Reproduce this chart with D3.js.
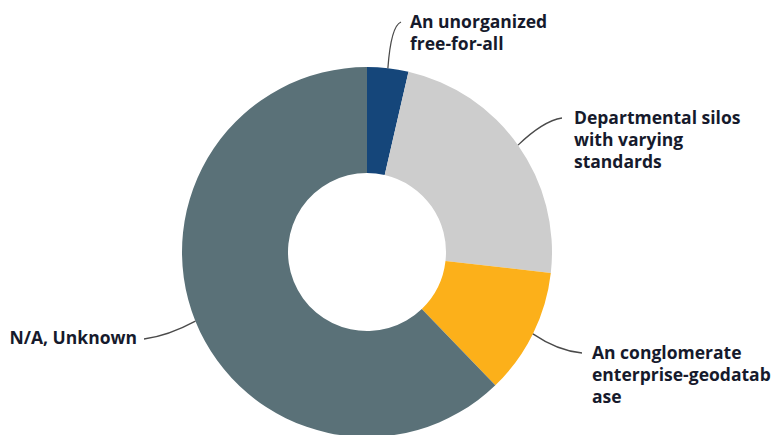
<!DOCTYPE html>
<html>
<head>
<meta charset="utf-8">
<script src="https://cdn.jsdelivr.net/npm/d3@7"></script>
<style>
  html, body { margin: 0; padding: 0; background: #fff; }
  svg { display: block; }
</style>
</head>
<body>
<svg id="chart" width="773" height="435"></svg>
<script>
// Survey answers, clockwise from 12 o'clock
const categories = [
  "An unorganized free-for-all",
  "Departmental silos with varying standards",
  "An conglomerate enterprise-geodatabase",
  "N/A, Unknown"
];
const shares = [3.6, 23.2, 11.0, 62.2];
const colors = ["#15467a", "#cdcdcd", "#fcb01a", "#5a7178"];
// Label text, one entry per line
const labelLines = [
  ["An unorganized", "free-for-all"],
  ["Departmental silos", "with varying", "standards"],
  ["An conglomerate", "enterprise-geodatab", "ase"],
  ["N/A, Unknown"]
];

const svg = d3.select("#chart");
const cx = 367, cy = 252, rOuter = 185, rInner = 79;
const g = svg.append("g").attr("transform", `translate(${cx},${cy})`);

const data = categories.map((c, i) => ({ name: c, value: shares[i], color: colors[i], lines: labelLines[i] }));

const pie = d3.pie().value(d => d.value).sort(null);
const arc = d3.arc().innerRadius(rInner).outerRadius(rOuter);
const arcs = pie(data);

g.selectAll("path.slice")
  .data(arcs)
  .join("path")
  .attr("class", "slice")
  .attr("d", arc)
  .attr("fill", d => d.data.color);

// Label placement: text anchor point, leader end point, curve control
const labelLayout = [
  { x: 410, y: 22, anchor: "start", end: [401, 22], ctrl: [391, 26] },
  { x: 574, y: 118, anchor: "start", end: [562, 118], ctrl: [543, 121] },
  { x: 592, y: 353, anchor: "start", end: [582, 353], ctrl: [558, 351] },
  { x: 137, y: 338, anchor: "end", end: [144, 339], ctrl: [168, 336] }
];
const lineHeight = 22;

arcs.forEach((a, i) => {
  const mid = (a.startAngle + a.endAngle) / 2;
  const sx = cx + rOuter * Math.sin(mid);
  const sy = cy - rOuter * Math.cos(mid);
  const L = labelLayout[i];
  const p = d3.path();
  p.moveTo(sx, sy);
  p.quadraticCurveTo(L.ctrl[0], L.ctrl[1], L.end[0], L.end[1]);
  svg.append("path")
    .attr("d", p.toString())
    .attr("fill", "none")
    .attr("stroke", "#4a4a4a")
    .attr("stroke-width", 1.3);

  const t = svg.append("text")
    .attr("x", L.x)
    .attr("y", L.y)
    .attr("text-anchor", L.anchor)
    .attr("font-family", "'Open Sans', Roboto, sans-serif")
    .attr("font-weight", 700)
    .attr("font-size", 17.5)
    .attr("fill", "#161a2c");
  a.data.lines.forEach((line, j) => {
    t.append("tspan")
      .attr("x", L.x)
      .attr("dy", j === 0 ? "0.35em" : lineHeight)
      .text(line);
  });
});
</script>
</body>
</html>
